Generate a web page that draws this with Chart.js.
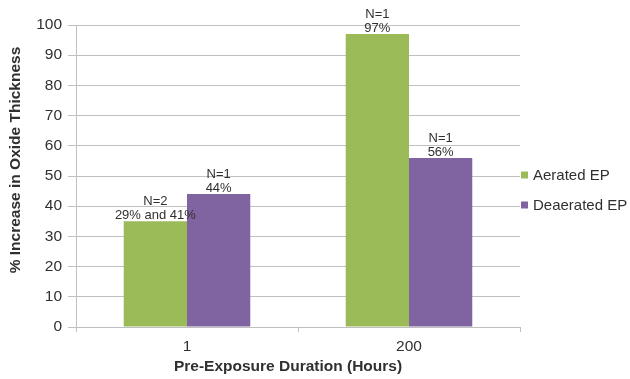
<!DOCTYPE html>
<html>
<head>
<meta charset="utf-8">
<script src="https://cdn.jsdelivr.net/npm/chart.js@4.4.1/dist/chart.umd.min.js"></script>
<style>
  html, body { margin: 0; padding: 0; background: #fff; overflow: hidden; }
  #c { display: block; }
</style>
</head>
<body>
<canvas id="c" width="630" height="379"></canvas>
<script>
// Pre-exposure duration groups
const durations = ['1', '200'];
const seriesNames = ['Aerated EP', 'Deaerated EP'];
// % increase in oxide thickness (aerated at 1 h is the mean of 29% and 41%)
const aerated = [35, 97];
const deaerated = [44, 56];
// Annotation text above each bar: [count line, value line]
const aeratedNotes = [['N=2', '29% and 41%'], ['N=1', '97%']];
const deaeratedNotes = [['N=1', '44%'], ['N=1', '56%']];
const yTicks = [0, 10, 20, 30, 40, 50, 60, 70, 80, 90, 100];
const xTitle = 'Pre-Exposure Duration (Hours)';
const yTitle = '% Increase in Oxide Thickness';

const GREEN = '#9BBB59';
const PURPLE = '#8064A2';
const GRID = '#C0C0C0';
const TEXT = '#303030';
const FONT = 'Liberation Sans, Arial, sans-serif';

// Two-line notes drawn just above each bar
const noteLabels = {
  id: 'noteLabels',
  afterDatasetsDraw(chart) {
    const ctx = chart.ctx;
    ctx.save();
    ctx.font = '13px ' + FONT;
    ctx.fillStyle = TEXT;
    ctx.textAlign = 'center';
    ctx.textBaseline = 'alphabetic';
    chart.data.datasets.forEach((ds, di) => {
      const meta = chart.getDatasetMeta(di);
      meta.data.forEach((bar, i) => {
        const lines = ds.notes[i];
        const base = bar.y - 2;
        ctx.fillText(lines[1], bar.x, base);
        ctx.fillText(lines[0], bar.x, base - 14);
      });
    });
    ctx.restore();
  }
};

// Axis titles, set in the space reserved beside and below the plot
const axisTitles = {
  id: 'axisTitles',
  afterDraw(chart) {
    const ctx = chart.ctx;
    const area = chart.chartArea;
    ctx.save();
    ctx.font = 'bold 15.5px ' + FONT;
    ctx.fillStyle = TEXT;
    ctx.textAlign = 'center';
    ctx.textBaseline = 'middle';
    ctx.fillText(xTitle, (area.left + area.right) / 2 - 10, 367);
    ctx.translate(16, (area.top + area.bottom) / 2 - 16);
    ctx.rotate(-Math.PI / 2);
    ctx.fillText(yTitle, 0, 0);
    ctx.restore();
  }
};

// Legend at the right of the plot: square marker + series name
const sideLegend = {
  id: 'sideLegend',
  afterDraw(chart) {
    const ctx = chart.ctx;
    const x0 = chart.chartArea.right + 1;
    const ys = [175, 205];
    ctx.save();
    ctx.font = '15px ' + FONT;
    ctx.textBaseline = 'middle';
    ctx.textAlign = 'left';
    chart.data.datasets.forEach((ds, i) => {
      ctx.fillStyle = ds.backgroundColor;
      ctx.fillRect(x0, ys[i] - 3.5, 7, 7);
      ctx.fillStyle = TEXT;
      ctx.fillText(ds.label, x0 + 12, ys[i] + 1);
    });
    ctx.restore();
  }
};

new Chart(document.getElementById('c'), {
  type: 'bar',
  data: {
    labels: durations,
    datasets: [
      { label: seriesNames[0], data: aerated, backgroundColor: GREEN, notes: aeratedNotes },
      { label: seriesNames[1], data: deaerated, backgroundColor: PURPLE, notes: deaeratedNotes }
    ]
  },
  options: {
    responsive: false,
    animation: false,
    devicePixelRatio: 1,
    layout: { padding: { top: 25, right: 110, left: 0, bottom: 0 } },
    datasets: { bar: { categoryPercentage: 0.57, barPercentage: 1.0 } },
    plugins: {
      legend: { display: false },
      tooltip: { enabled: false }
    },
    scales: {
      x: {
        grid: {
          offset: true,
          drawOnChartArea: false,
          drawTicks: true,
          tickLength: 5,
          color: GRID
        },
        border: { color: GRID, width: 1 },
        ticks: { color: TEXT, font: { family: FONT, size: 15.5 }, padding: 5 },
        afterFit(s) { s.height = 52; }
      },
      y: {
        min: 0,
        max: 100,
        afterBuildTicks(s) { s.ticks = yTicks.map(v => ({ value: v })); },
        grid: { color: GRID, tickLength: 8, lineWidth: 1 },
        border: { color: GRID, width: 1 },
        ticks: { color: TEXT, font: { family: FONT, size: 15.5 }, padding: 6 },
        afterFit(s) { s.width = 76; }
      }
    }
  },
  plugins: [noteLabels, axisTitles, sideLegend]
});
</script>
</body>
</html>
